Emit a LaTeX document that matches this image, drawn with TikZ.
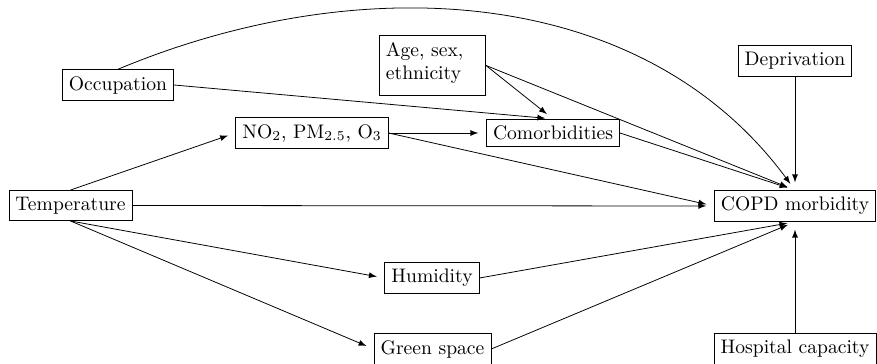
\documentclass[tikz,border=0pt]{standalone}
\usetikzlibrary{arrows}
\begin{document}
\begin{tikzpicture}[x=0.51pt,y=-0.51pt,
  box/.style={draw, line width=0.4pt},
  arr/.style={-latex, line width=0.4pt, shorten >=4pt}]
\useasboundingbox (0,0) rectangle (877,364);
\node[box] (temp) at (70.5,205.5) {Temperature};
\node[box] (occ) at (118,85) {Occupation};
\node[box] (poll) at (312,133) {NO$_2$, PM$_{2.5}$, O$_3$};
\node[box, align=left, text width=47.5pt] (age) at (432.5,65.5) {Age, sex,\\ ethnicity\rule[-4.5pt]{0pt}{5pt}};
\node[box] (com) at (553,133) {Comorbidities};
\node[box] (dep) at (795,61) {Deprivation};
\node[box] (copd) at (795,206) {COPD morbidity};
\node[box] (hum) at (432,278) {Humidity};
\node[box] (green) at (432.5,349) {Green space};
\node[box] (hosp) at (795,349) {Hospital capacity};

\draw[arr] (occ.north) .. controls (360,-32) and (643,-16) .. (copd.north);
\draw[arr] (occ.east) -- (com.north);
\draw[arr] (age.east) -- (com.north);
\draw[arr] (age.east) -- (copd.north);
\draw[arr] (poll.east) -- (com.west);
\draw[arr] (poll.east) -- (copd.west);
\draw[arr] (com.east) -- (copd.north);
\draw[arr] (dep.south) -- (copd.north);
\draw[arr] (temp.north) -- (poll.west);
\draw[arr] (temp.east) -- (copd.west);
\draw[arr] (temp.south) -- (hum.west);
\draw[arr] (temp.south) -- (green.west);
\draw[arr] (hum.east) -- (copd.south);
\draw[arr] (green.east) -- (copd.south);
\draw[arr] (hosp.north) -- (copd.south);
\end{tikzpicture}
\end{document}
